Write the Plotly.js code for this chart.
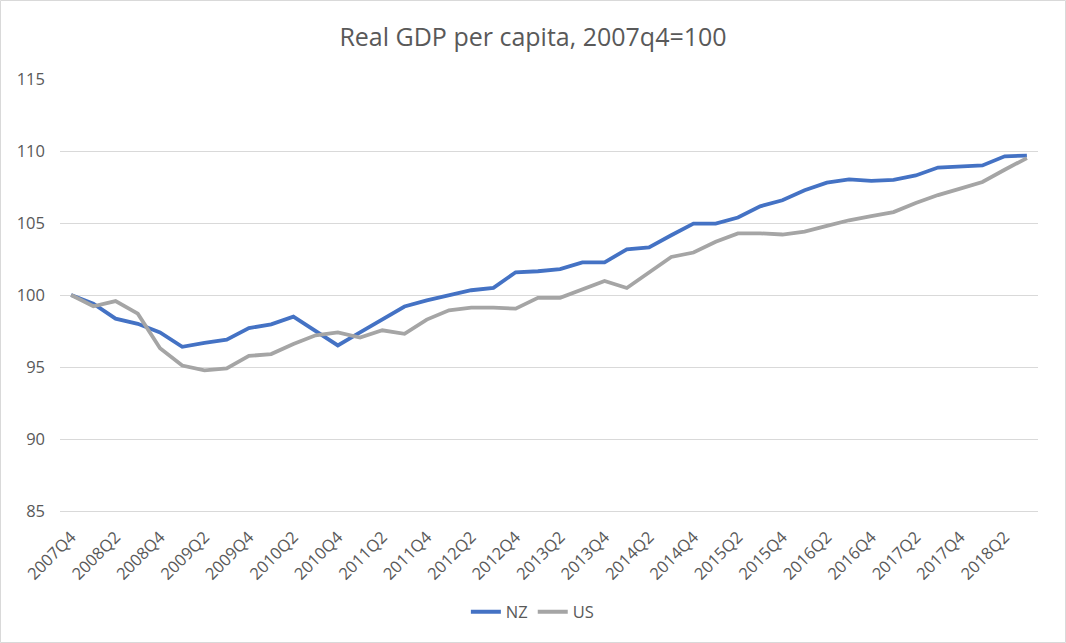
<!DOCTYPE html>
<html>
<head>
<meta charset="utf-8">
<script src="https://cdn.plot.ly/plotly-3.0.1.min.js"></script>
<style>html,body{margin:0;padding:0;background:#fff;}#chart{width:1066px;height:643px;}</style>
</head>
<body>
<div id="chart"></div>
<script>
const quarters = ["2007Q4","2008Q1","2008Q2","2008Q3","2008Q4","2009Q1","2009Q2","2009Q3","2009Q4","2010Q1","2010Q2","2010Q3","2010Q4","2011Q1","2011Q2","2011Q3","2011Q4","2012Q1","2012Q2","2012Q3","2012Q4","2013Q1","2013Q2","2013Q3","2013Q4","2014Q1","2014Q2","2014Q3","2014Q4","2015Q1","2015Q2","2015Q3","2015Q4","2016Q1","2016Q2","2016Q3","2016Q4","2017Q1","2017Q2","2017Q3","2017Q4","2018Q1","2018Q2","2018Q3"];
const nz = [100, 99.4, 98.36, 98.0, 97.4, 96.4, 96.67, 96.9, 97.7, 97.96, 98.5, 97.5, 96.5, 97.4, 98.29, 99.2, 99.63, 99.98, 100.33, 100.5, 101.58, 101.65, 101.8, 102.27, 102.27, 103.17, 103.3, 104.15, 104.96, 104.96, 105.38, 106.16, 106.58, 107.27, 107.8, 108.03, 107.92, 108.0, 108.3, 108.85, 108.9, 109.0, 109.63, 109.68];
const us = [100, 99.22, 99.58, 98.7, 96.3, 95.1, 94.77, 94.9, 95.77, 95.9, 96.6, 97.2, 97.4, 97.05, 97.55, 97.3, 98.29, 98.94, 99.12, 99.12, 99.05, 99.8, 99.8, 100.37, 100.97, 100.49, 101.58, 102.64, 102.95, 103.7, 104.28, 104.28, 104.2, 104.4, 104.8, 105.19, 105.47, 105.76, 106.39, 106.94, 107.39, 107.85, 108.7, 109.51];
const tickLabels = ["2007Q4","2008Q2","2008Q4","2009Q2","2009Q4","2010Q2","2010Q4","2011Q2","2011Q4","2012Q2","2012Q4","2013Q2","2013Q4","2014Q2","2014Q4","2015Q2","2015Q4","2016Q2","2016Q4","2017Q2","2017Q4","2018Q2"];
const yTicks = [85, 90, 95, 100, 105, 110, 115];

const FONT = "Open Sans, Lato, sans-serif";
const TXT = "#595959";

const traces = [
  {x: quarters, y: nz, name: "NZ", type: "scatter", mode: "lines",
   line: {color: "#4472C4", width: 3.8}},
  {x: quarters, y: us, name: "US", type: "scatter", mode: "lines",
   line: {color: "#A5A5A5", width: 3.8}}
];

const L = 60, R = 1038, T = 79, B = 511;
const pw = R - L, ph = B - T;

const layout = {
  width: 1066, height: 643,
  margin: {l: L, r: 1066 - R, t: T, b: 643 - B, pad: 0},
  paper_bgcolor: "#fff", plot_bgcolor: "#fff",
  font: {family: FONT, color: TXT, size: 16},
  title: {text: "Real GDP per capita, 2007q4=100", font: {family: FONT, size: 25, color: TXT},
          x: 0.5, xanchor: "center", y: 1 - 37/643, yanchor: "middle", yref: "container"},
  xaxis: {type: "category", range: [-0.5, quarters.length - 0.5],
          tickmode: "array", tickvals: tickLabels, ticktext: tickLabels,
          tickangle: -45, ticks: "", showgrid: false, zeroline: false,
          showline: true, linecolor: "#D9D9D9", linewidth: 1, ticklabelstandoff: 9,
          tickfont: {family: FONT, size: 16.5, color: TXT}, fixedrange: true},
  yaxis: {range: [85, 115], tickmode: "array", tickvals: yTicks, ticks: "",
          showgrid: true, gridcolor: "#D9D9D9", gridwidth: 1, zeroline: false,
          showline: false, ticklabelstandoff: 14,
          tickfont: {family: FONT, size: 16.5, color: TXT}, fixedrange: true},
  showlegend: true,
  legend: {orientation: "h", x: 0.483, xanchor: "center", y: (B - 612) / ph, yanchor: "middle",
           font: {family: FONT, size: 16.5, color: TXT}, itemwidth: 30, tracegroupgap: 0},
  shapes: [{type: "rect", xref: "paper", yref: "paper",
            x0: -L / pw + 0.5/pw, x1: (1065.5 - L) / pw, y0: (B - 642.5) / ph, y1: (B - 0.5) / ph,
            line: {color: "#D9D9D9", width: 1}, fillcolor: "rgba(0,0,0,0)", layer: "below"}]
};

Plotly.newPlot("chart", traces, layout, {displayModeBar: false, staticPlot: true});
</script>
</body>
</html>
